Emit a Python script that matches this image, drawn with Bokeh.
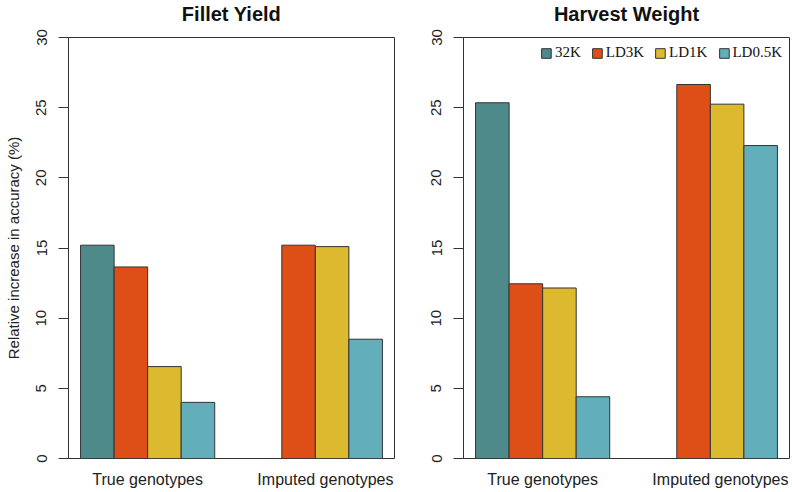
import math
from bokeh.plotting import figure
from bokeh.models import ColumnDataSource, Range1d, FixedTicker, Legend, LegendItem, Title
from bokeh.layouts import row
from bokeh.embed import file_html
from bokeh.resources import INLINE

# ---- data ----
groups = ["True genotypes", "Imputed genotypes"]
series = ["32K", "LD3K", "LD1K", "LD0.5K"]
colors = ["#4E8A89", "#DE4F17", "#DDB92F", "#62AFBB"]
y_ticks = [0, 5, 10, 15, 20, 25, 30]

fillet_true = [15.2, 13.65, 6.55, 4.0]
fillet_imputed = [None, 15.2, 15.1, 8.5]
harvest_true = [25.35, 12.45, 12.15, 4.4]
harvest_imputed = [None, 26.65, 25.25, 22.3]

FONT = "Liberation Sans"
SERIF = "Liberation Serif"
OUTLINE = "#333333"
X_MIN, X_MAX = 0.64, 10.36
Y_MIN, Y_MAX = 0, 30


def make_panel(title, true_vals, imp_vals, width, border_left, border_right,
               ylabel=None, legend=False):
    p = figure(width=width, height=490, output_backend="svg", toolbar_location=None,
               x_range=Range1d(X_MIN, X_MAX), y_range=Range1d(Y_MIN, Y_MAX),
               min_border_left=border_left, min_border_right=border_right,
               min_border_top=37, min_border_bottom=20)
    # spacer between frame and title, then the title itself
    p.add_layout(Title(text=" ", text_font_size="10px", standoff=0), "above")
    p.add_layout(Title(text=title, align="center", standoff=0,
                       text_font=FONT, text_font_size="20px",
                       text_font_style="bold", text_color="#111111"), "above")
    p.xgrid.visible = False
    p.ygrid.visible = False
    p.outline_line_color = OUTLINE
    p.outline_line_width = 1
    p.outline_line_alpha = 1.0
    p.background_fill_color = "white"
    p.border_fill_color = "white"

    items = []
    n = len(series)
    for i, (name, col) in enumerate(zip(series, colors)):
        xs, tops = [], []
        for g, vals in enumerate([true_vals, imp_vals]):
            v = vals[i]
            if v is None:
                continue
            xs.append(1 + g * (n + 1) + i + 0.5)
            tops.append(v)
        src = ColumnDataSource(dict(x=xs, top=tops))
        r = p.vbar(x="x", top="top", bottom=0, width=1.0, source=src,
                   fill_color=col, line_color=OUTLINE, line_width=1)
        items.append(LegendItem(label=name, renderers=[r]))

    # y axis
    ya = p.yaxis[0]
    ya.ticker = FixedTicker(ticks=y_ticks)
    ya.minor_tick_line_color = None
    ya.major_tick_out = 10
    ya.major_tick_in = 0
    ya.major_label_orientation = "vertical"
    ya.major_label_standoff = 12
    ya.major_label_text_font = FONT
    ya.major_label_text_font_size = "15px"
    ya.major_label_text_color = "#222222"
    ya.axis_line_color = OUTLINE
    ya.major_tick_line_color = OUTLINE
    if ylabel:
        ya.axis_label = ylabel
        ya.axis_label_text_font = FONT
        ya.axis_label_text_font_size = "15px"
        ya.axis_label_text_font_style = "normal"
        ya.axis_label_text_color = "#222222"
        ya.axis_label_standoff = 12

    # x axis: group labels
    xa = p.xaxis[0]
    label_pos = [3.0, 8.3]
    xa.ticker = FixedTicker(ticks=label_pos)
    xa.major_label_overrides = {label_pos[0]: groups[0], label_pos[1]: groups[1]}
    xa.axis_line_color = None
    xa.major_tick_line_color = None
    xa.minor_tick_line_color = None
    xa.major_tick_out = 0
    xa.major_tick_in = 0
    xa.axis_label_standoff = 0
    xa.major_label_standoff = 12
    xa.major_label_text_font = FONT
    xa.major_label_text_font_size = "16px"
    xa.major_label_text_color = "#222222"

    if legend:
        lg = Legend(items=items, orientation="horizontal", location="top_right")
        lg.label_text_font = SERIF
        lg.label_text_font_size = "15px"
        lg.label_text_color = "#111111"
        lg.glyph_width = 12
        lg.glyph_height = 12
        lg.label_height = 12
        lg.label_standoff = 3
        lg.spacing = 10
        lg.padding = 4
        lg.margin = 7
        lg.border_line_color = None
        lg.background_fill_alpha = 0
        p.add_layout(lg)
    return p


p1 = make_panel("Fillet Yield", fillet_true, fillet_imputed, 400, 68, 6,
                ylabel="Relative increase in accuracy (%)")
p2 = make_panel("Harvest Weight", harvest_true, harvest_imputed, 390, 63, 1,
                legend=True)

layout = row(p1, p2)
open("out.html", "w").write(file_html(layout, INLINE))
